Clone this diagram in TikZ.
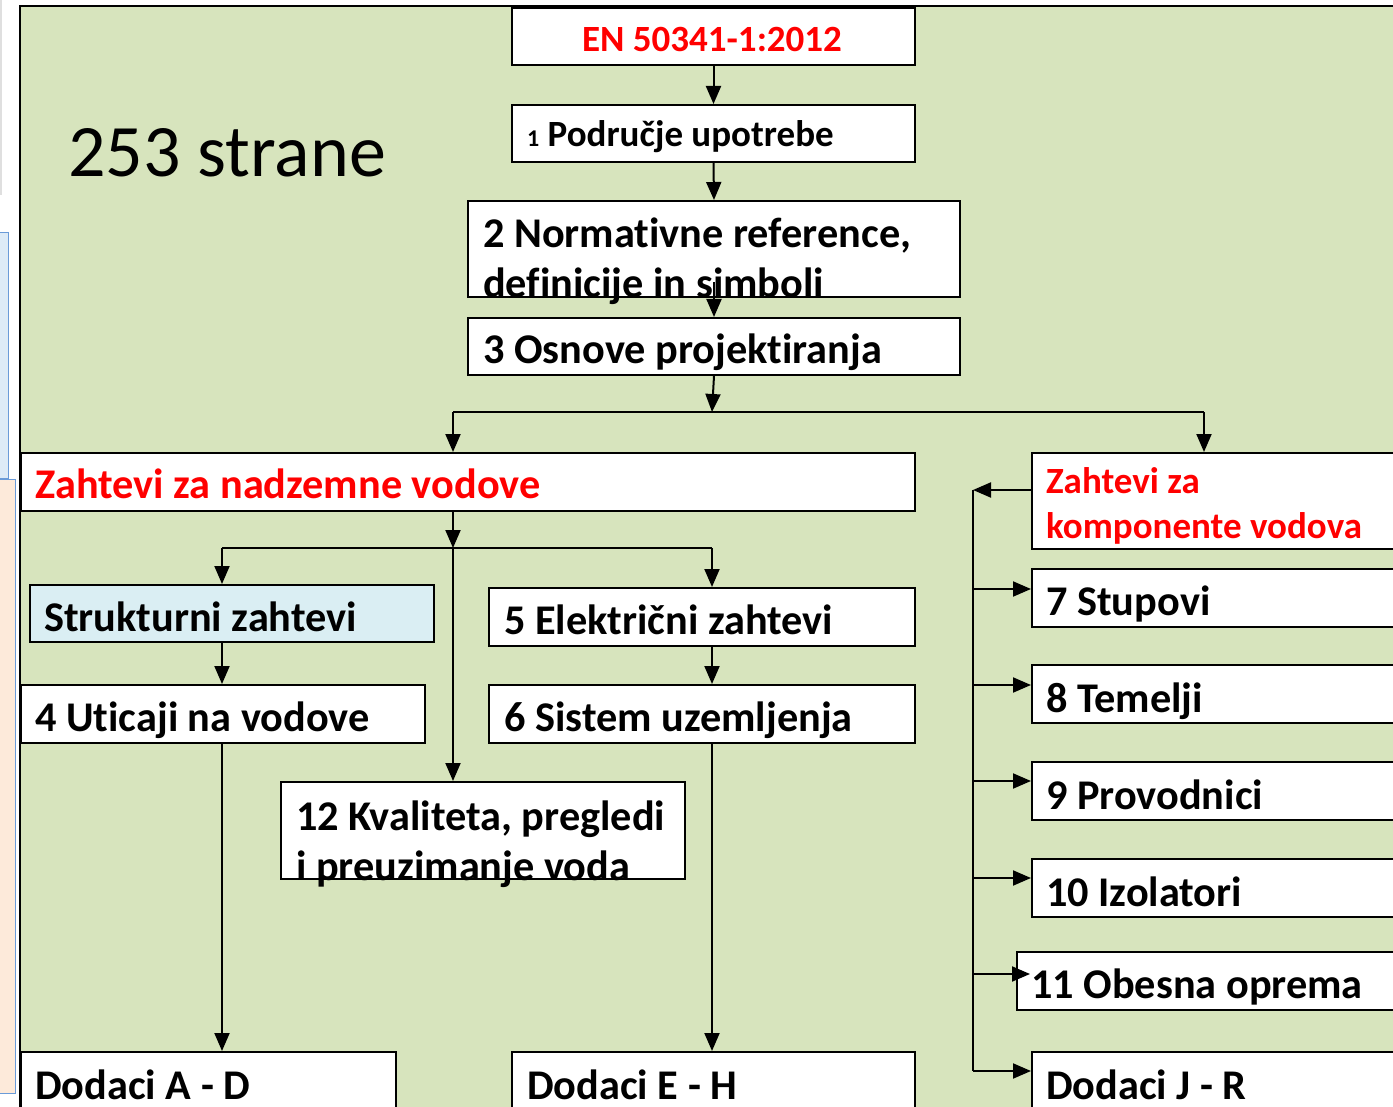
\documentclass[tikz,border=0pt]{standalone}
\usepackage{fontspec}
\setmainfont{Carlito}[Ligatures=NoCommon]
\usetikzlibrary{arrows.meta}
\definecolor{bggreen}{HTML}{D7E4BD}
\definecolor{boxblue}{HTML}{DAEEF3}
\definecolor{stripblue}{HTML}{DDEBF7}
\definecolor{stripedge}{HTML}{6A9BD8}
\definecolor{peach}{HTML}{FDEADA}
\tikzset{
  box/.style={draw=black, line width=2pt, fill=white, inner sep=0pt, anchor=north west},
  txt/.style={inner sep=0pt, anchor=base west, font=\bfseries\fontsize{42.3}{46}\selectfont},
  redtxt/.style={txt, text=red},
  arr/.style={line width=2pt, -{Triangle[length=18pt,width=15pt]}},
  ln/.style={line width=2pt}
}
\begin{document}
\begin{tikzpicture}[x=1pt,y=-1pt]
\useasboundingbox (0,0) rectangle (1393,1107);
\clip (0,0) rectangle (1393,1107);
\fill[white] (0,0) rectangle (1393,1107);
% left slide remnants
\draw[gray!25, line width=2pt] (1,0) -- (1,195);
\draw[stripedge, fill=stripblue, line width=1pt] (-10,233) rectangle (8,478);
\draw[stripedge, fill=peach, line width=1pt] (-10,479) rectangle (15,1093);
% green panel
\draw[fill=bggreen, line width=2pt] (20,1200) -- (20,6) -- (1500,6);
\fill[bggreen] (21,7) rectangle (1500,1200);
% title
\node[inner sep=0pt, anchor=base west, font=\fontsize{74}{80}\selectfont] (title) at (68,177) {253 strane};
% boxes
\node[box, minimum width=403pt, minimum height=57pt] (en) at (511,7) {};
\node[box, minimum width=403pt, minimum height=57pt] (p1) at (511,104) {};
\node[box, minimum width=492pt, minimum height=96pt] (n2) at (467,200) {};
\node[box, minimum width=492pt, minimum height=57pt] (o3) at (467,317) {};
\node[box, minimum width=894pt, minimum height=58pt] (zn) at (20,452) {};
\node[box, fill=boxblue, minimum width=404pt, minimum height=57pt] (st) at (29,584) {};
\node[box, minimum width=404pt, minimum height=58pt] (u4) at (20,684) {};
\node[box, minimum width=426pt, minimum height=58pt] (e5) at (488,587) {};
\node[box, minimum width=426pt, minimum height=58pt] (s6) at (488,684) {};
\node[box, minimum width=404pt, minimum height=97pt] (q12) at (280,781) {};
\node[box, minimum width=375pt, minimum height=80pt] (dad) at (20,1051) {};
\node[box, minimum width=403pt, minimum height=80pt] (deh) at (511,1051) {};
\node[box, minimum width=400pt, minimum height=96pt] (kv) at (1031,452) {};
\node[box, minimum width=400pt, minimum height=58pt] (s7) at (1031,568) {};
\node[box, minimum width=400pt, minimum height=58pt] (t8) at (1031,664) {};
\node[box, minimum width=400pt, minimum height=58pt] (p9) at (1031,761) {};
\node[box, minimum width=400pt, minimum height=58pt] (i10) at (1031,858) {};
\node[box, minimum width=400pt, minimum height=58pt] (o11) at (1016,951) {};
\node[box, minimum width=400pt, minimum height=80pt] (djr) at (1031,1051) {};
% texts
\node[redtxt, anchor=base, font=\bfseries\fontsize{37}{44}\selectfont] (ten) at (712,52) {EN 50341-1:2012};
\node[txt, font=\bfseries\fontsize{37}{44}\selectfont] (tp1) at (527,147) {{\fontsize{24}{28}\selectfont 1} Područje upotrebe};
\node[txt] (tn2a) at (483,248) {2 Normativne reference,};
\node[txt] (tn2b) at (483,298) {definicije in simboli};
\node[txt] (to3) at (483,364) {3 Osnove projektiranja};
\node[redtxt] (tzn) at (35,498) {Zahtevi za nadzemne vodove};
\node[txt] (tst) at (44,631) {Strukturni zahtevi};
\node[txt] (tu4) at (35,731) {4 Uticaji na vodove};
\node[txt] (te5) at (504,634) {5 Električni zahtevi};
\node[txt] (ts6) at (504,731) {6 Sistem uzemljenja};
\node[txt] (tq12a) at (296,830) {12 Kvaliteta, pregledi};
\node[txt] (tq12b) at (296,880) {i preuzimanje voda};
\node[txt] (tdad) at (35,1099) {Dodaci A - D};
\node[txt] (tdeh) at (527,1099) {Dodaci E - H};
\node[redtxt, font=\bfseries\fontsize{37}{44}\selectfont] (tkva) at (1046,493) {Zahtevi za};
\node[redtxt, font=\bfseries\fontsize{37}{44}\selectfont] (tkvb) at (1046,538) {komponente vodova};
\node[txt] (ts7) at (1046,615) {7 Stupovi};
\node[txt] (tt8) at (1046,712) {8 Temelji};
\node[txt] (tp9) at (1046,809) {9 Provodnici};
\node[txt] (ti10) at (1046,906) {10 Izolatori};
\node[txt] (to11) at (1031,998) {11 Obesna oprema};
\node[txt] (tdjr) at (1046,1099) {Dodaci J - R};
% junctions
\coordinate (j1) at (712,412);
\coordinate (jl) at (453,412);
\coordinate (jr) at (1204,412);
\coordinate (j2) at (453,548);
\coordinate (sl) at (222,548);
\coordinate (sr) at (712,548);
\coordinate (v) at (973,490);
\coordinate (vb) at (973,1071);
\coordinate (a7) at ([yshift=9pt]s7.west);
\coordinate (a8) at ([yshift=9pt]t8.west);
\coordinate (a9) at ([yshift=10pt]p9.west);
\coordinate (a10) at ([yshift=10pt]i10.west);
\coordinate (a11) at ([xshift=14pt,yshift=7pt]o11.west);
% connectors
\draw[arr] (en.south) -- (p1.north);
\draw[arr] (p1.south) -- (n2.north);
\draw[arr] ([yshift=16pt]n2.south) -- (o3.north);
\draw[arr] (o3.south) -- (j1);
\draw[ln] (jl) -- (jr);
\draw[arr] (jl) -- (jl |- zn.north);
\draw[arr] (jr) -- (jr |- kv.north);
\draw[arr] (j2 |- zn.south) -- (j2);
\draw[arr] (j2) -- (j2 |- q12.north);
\draw[ln] (sl) -- (sr);
\draw[arr] (sl) -- (sl |- st.north);
\draw[arr] (sr) -- (sr |- e5.north);
\draw[arr] (sl |- st.south) -- (sl |- u4.north);
\draw[arr] (sr |- e5.south) -- (sr |- s6.north);
\draw[arr] (sl |- u4.south) -- (sl |- dad.north);
\draw[arr] (sr |- s6.south) -- (sr |- deh.north);
\draw[arr] (kv.west |- v) -- (v);
\draw[ln] (v) -- (vb);
\draw[arr] (v |- a7) -- (a7);
\draw[arr] (v |- a8) -- (a8);
\draw[arr] (v |- a9) -- (a9);
\draw[arr] (v |- a10) -- (a10);
\draw[arr] (v |- a11) -- (a11);
\draw[arr] (vb) -- (vb -| djr.west);
\end{tikzpicture}
\end{document}
